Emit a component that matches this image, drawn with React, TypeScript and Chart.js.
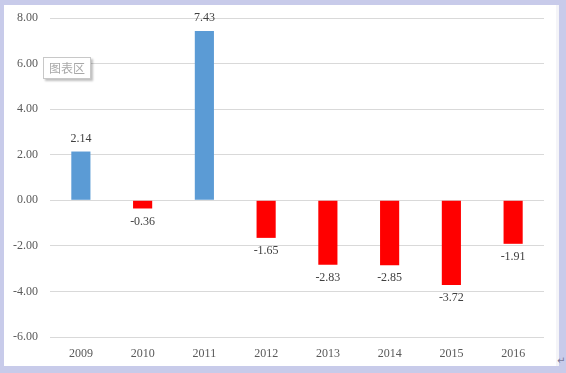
import React, { useEffect, useRef } from "react";
import { Chart, registerables } from "chart.js";

Chart.register(...registerables);

const categories = ["2009", "2010", "2011", "2012", "2013", "2014", "2015", "2016"];
const values = [2.14, -0.36, 7.43, -1.65, -2.83, -2.85, -3.72, -1.91];
const yMin = -6;
const yMax = 8;
const yStep = 2;

const FONT = "'Liberation Serif', 'Times New Roman', serif";

const labelPlugin = {
  id: "barLabels",
  afterDatasetsDraw(chart: any) {
    const ctx = chart.ctx;
    const meta = chart.getDatasetMeta(0);
    ctx.save();
    ctx.font = `12px ${FONT}`;
    ctx.fillStyle = "#404040";
    ctx.textAlign = "center";
    ctx.textBaseline = "middle";
    meta.data.forEach((bar: any, i: number) => {
      const v = values[i];
      const y = v >= 0 ? bar.y - 13 : bar.y + 13;
      ctx.fillText(v.toFixed(2), bar.x, y);
    });
    ctx.restore();
  },
};

export default function App() {
  const ref = useRef<HTMLCanvasElement>(null);
  useEffect(() => {
    const chart = new Chart(ref.current!, {
      type: "bar",
      data: {
        labels: categories,
        datasets: [
          {
            data: values,
            backgroundColor: values.map((v) => (v >= 0 ? "#5B9BD5" : "#FF0000")),
            barPercentage: 0.31,
            categoryPercentage: 1,
          },
        ],
      },
      options: {
        animation: false,
        responsive: false,
        maintainAspectRatio: false,
        layout: { padding: { left: 0, right: 12, top: 13, bottom: 0 } },
        plugins: { legend: { display: false }, tooltip: { enabled: false } },
        scales: {
          x: {
            grid: { display: false, drawTicks: false },
            border: { display: false },
            ticks: { color: "#595959", font: { family: FONT, size: 12 }, padding: 10 },
            afterFit: (s: any) => {
              s.height = 29;
              s.paddingLeft = 0;
              s.paddingRight = 0;
            },
          },
          y: {
            min: yMin,
            max: yMax,
            grid: { color: "#d9d9d9", drawTicks: false },
            border: { display: false },
            ticks: {
              stepSize: yStep,
              color: "#595959",
              font: { family: FONT, size: 12 },
              padding: 12,
              callback: (v: any) => Number(v).toFixed(2),
            },
            afterFit: (s: any) => {
              s.width = 46;
              s.paddingTop = 0;
              s.paddingBottom = 0;
            },
          },
        },
      },
      plugins: [labelPlugin],
    });
    return () => chart.destroy();
  }, []);

  return (
    <div
      style={{
        position: "fixed",
        left: 0,
        top: 0,
        width: 566,
        height: 373,
        background: "#c8cbea",
        overflow: "hidden",
      }}
    >
      <div
        style={{
          position: "absolute",
          left: 4,
          top: 5,
          width: 552,
          height: 361,
          background: "#ffffff",
        }}
      >
        <canvas ref={ref} width={552} height={361} style={{ display: "block" }} />
      </div>
      <div
        style={{
          position: "absolute",
          left: 556,
          top: 5,
          width: 3,
          height: 361,
          background: "#f4f4f8",
        }}
      />
      <div
        style={{
          position: "absolute",
          left: 43,
          top: 57,
          width: 46,
          height: 20,
          background: "#ffffff",
          border: "1px solid #c8c8c8",
          boxShadow: "2px 2px 2px rgba(0,0,0,0.25)",
          color: "#a8a8a8",
          fontFamily: "'Noto Sans CJK SC', sans-serif",
          fontSize: 12,
          lineHeight: "20px",
          textAlign: "center",
        }}
      >
        图表区
      </div>
      <div
        style={{
          position: "absolute",
          left: 557,
          top: 355,
          color: "#7a7a9a",
          fontFamily: "'DejaVu Sans', sans-serif",
          fontSize: 10,
        }}
      >
        ↵
      </div>
    </div>
  );
}
